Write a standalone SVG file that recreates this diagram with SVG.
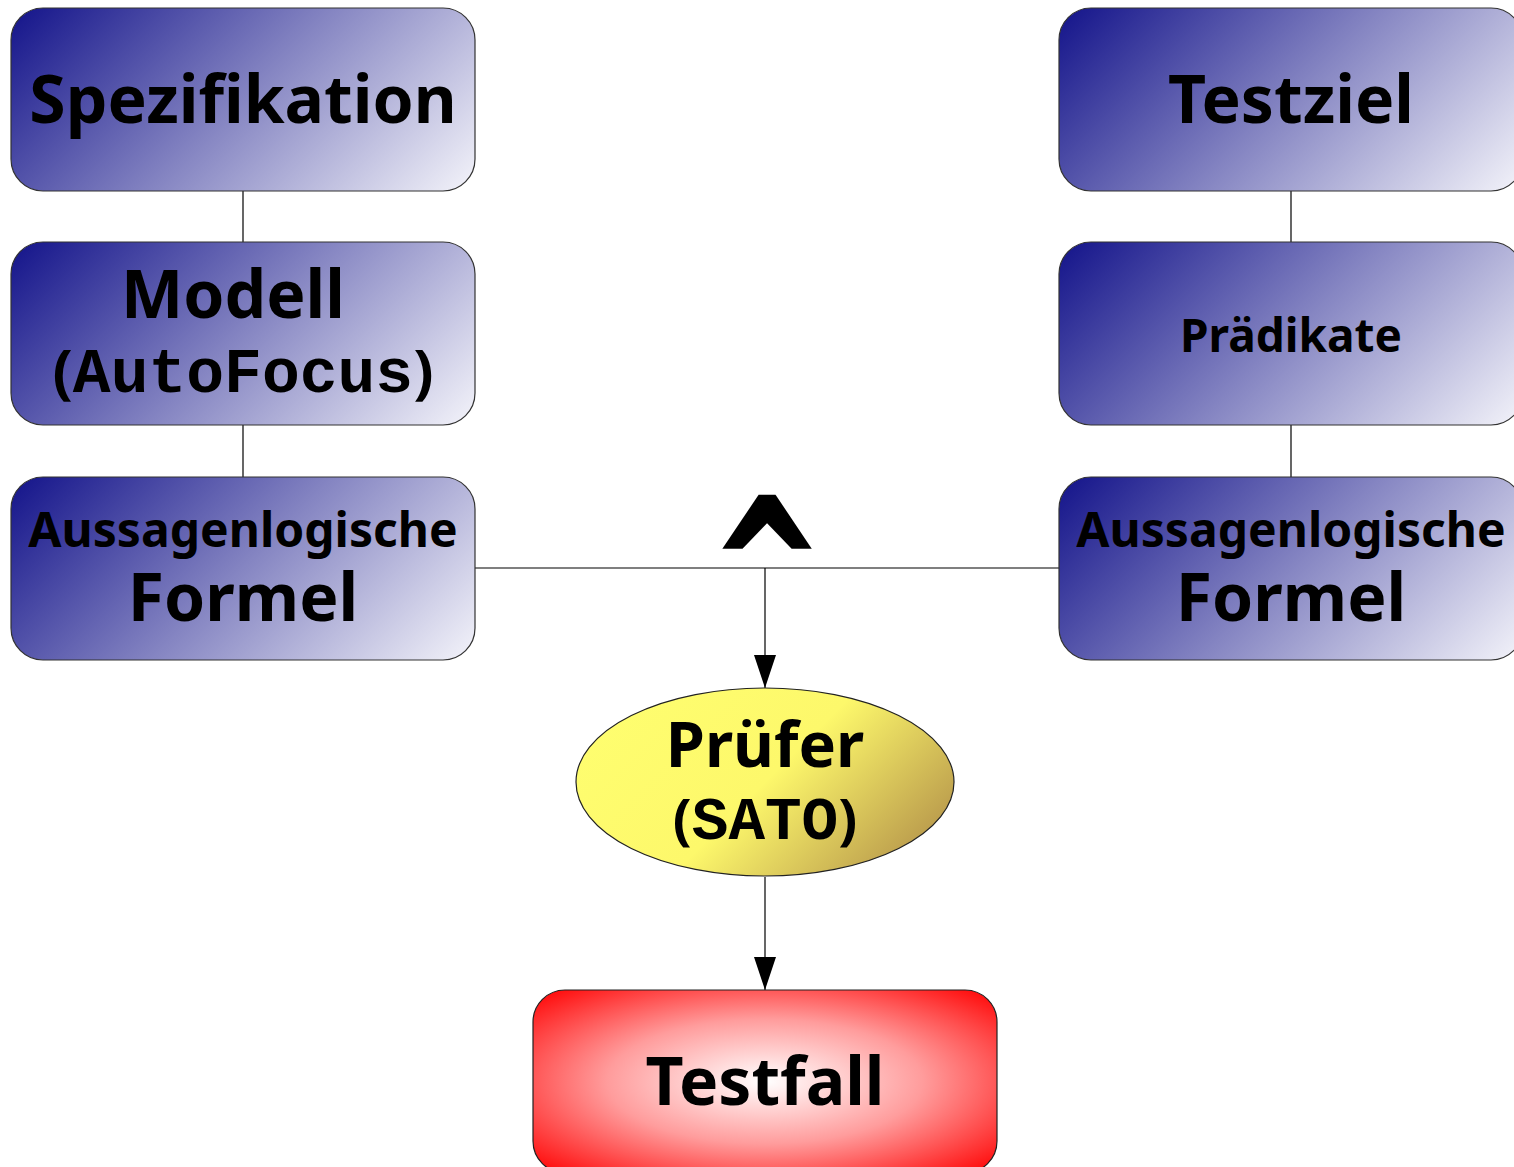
<svg xmlns="http://www.w3.org/2000/svg" width="1514" height="1167" viewBox="0 0 1514 1167">
<defs>
<linearGradient id="blue" gradientUnits="userSpaceOnUse" x1="0" y1="0" x2="323.5" y2="323.5">
<stop offset="0" stop-color="#13138a"/>
<stop offset="0.5" stop-color="#8585c2"/>
<stop offset="1" stop-color="#f4f4fa"/>
</linearGradient>
<linearGradient id="yellow" gradientUnits="userSpaceOnUse" x1="0" y1="0" x2="283" y2="283">
<stop offset="0" stop-color="#ffff70"/>
<stop offset="0.5" stop-color="#fdf86b"/>
<stop offset="1" stop-color="#a88244"/>
</linearGradient>
<radialGradient id="red" cx="0.5" cy="0.5" r="0.68">
<stop offset="0" stop-color="#ffffff"/>
<stop offset="0.5" stop-color="#ff9c9c"/>
<stop offset="1" stop-color="#ff0a0a"/>
</radialGradient>
<marker id="arr" viewBox="0 0 33 22" refX="33" refY="11" markerWidth="33" markerHeight="22" markerUnits="userSpaceOnUse" orient="auto">
<path d="M0,0 L33,11 L0,22 Z" fill="#000"/>
</marker>
<style>
.box{fill:url(#blue);stroke:#333;stroke-width:1.2}
.t{font-family:"Noto Sans","DejaVu Sans",sans-serif;font-weight:bold;fill:#000;text-anchor:middle}
.m{font-family:"Liberation Mono","Courier New",monospace;font-weight:bold}
.c{stroke:#000;stroke-width:1.2;fill:none}
.op{font-family:"DejaVu Sans",sans-serif;font-weight:bold;fill:#000;stroke:#000;stroke-width:4;stroke-linejoin:miter;text-anchor:middle}
</style>
</defs>
<g id="connectors">
<line class="c" x1="243" y1="191" x2="243" y2="242"/>
<line class="c" x1="243" y1="425" x2="243" y2="477"/>
<line class="c" x1="1291" y1="191" x2="1291" y2="242"/>
<line class="c" x1="1291" y1="425" x2="1291" y2="477"/>
<line class="c" x1="475" y1="568" x2="1059" y2="568"/>
<line class="c" x1="765" y1="568" x2="765" y2="688" marker-end="url(#arr)"/>
<line class="c" x1="765" y1="877" x2="765" y2="990" marker-end="url(#arr)"/>
<text class="op" x="767" y="442" font-size="126" transform="scale(1,1.42)">^</text>
</g>
<g id="spezifikation" transform="translate(11,8)">
<rect class="box" x="0" y="0" width="464" height="183" rx="32"/>
<text class="t" x="232" y="115" font-size="66">Spezifikation</text>
</g>
<g id="modell" transform="translate(11,242)">
<rect class="box" x="0" y="0" width="464" height="183" rx="32"/>
<text class="t" x="222" y="76" font-size="66">Modell</text>
<text class="t" x="232" y="150" font-size="60">(<tspan class="m" font-size="63">AutoFocus</tspan>)</text>
</g>
<g id="formel-links" transform="translate(11,477)">
<rect class="box" x="0" y="0" width="464" height="183" rx="32"/>
<text class="t" x="232" y="70" font-size="48">Aussagenlogische</text>
<text class="t" x="232" y="144" font-size="66">Formel</text>
</g>
<g id="testziel" transform="translate(1059,8)">
<rect class="box" x="0" y="0" width="464" height="183" rx="32"/>
<text class="t" x="232" y="115" font-size="66">Testziel</text>
</g>
<g id="praedikate" transform="translate(1059,242)">
<rect class="box" x="0" y="0" width="464" height="183" rx="32"/>
<text class="t" x="232" y="110" font-size="46">Prädikate</text>
</g>
<g id="formel-rechts" transform="translate(1059,477)">
<rect class="box" x="0" y="0" width="464" height="183" rx="32"/>
<text class="t" x="232" y="70" font-size="48">Aussagenlogische</text>
<text class="t" x="232" y="144" font-size="66">Formel</text>
</g>
<g id="pruefer" transform="translate(576,688)">
<ellipse cx="189" cy="94" rx="189" ry="94" fill="url(#yellow)" stroke="#222" stroke-width="1.2"/>
<text class="t" x="189" y="79" font-size="63">Prüfer</text>
<text class="t" x="189" y="151" font-size="56">(<tspan class="m" font-size="61">SATO</tspan>)</text>
</g>
<g id="testfall">
<rect x="533" y="990" width="464" height="183" rx="32" fill="url(#red)" stroke="#222" stroke-width="1.2"/>
<text class="t" x="765" y="1105" font-size="66">Testfall</text>
</g>
</svg>
